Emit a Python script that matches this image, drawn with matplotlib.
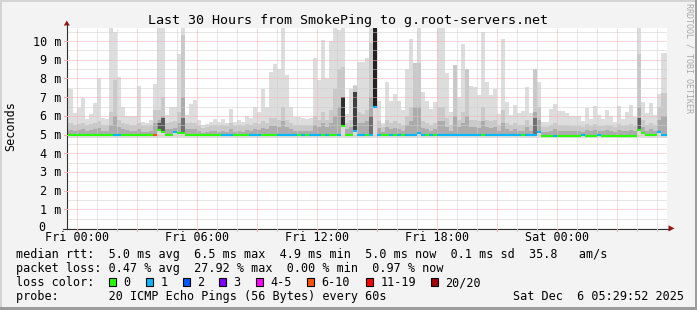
import numpy as np
import matplotlib
matplotlib.use("Agg")
import matplotlib.pyplot as plt
from matplotlib.lines import Line2D
from matplotlib.patches import Rectangle, Polygon

W, H = 697, 310
MONO = "DejaVu Sans Mono"

# ---------------- data (12-minute steps, hours since Thu 23:30) ----------------
step_hours = 0.2
max_ms = [7.5, 7.45, 6.15, 6.43, 6.95, 5.85, 6.1, 6.7, 8.0, 5.9,
          5.85, 10.7, 10.5, 8.07, 6.47, 6.0, 6.0, 6.0, 7.6, 5.67,
          5.6, 5.8, 7.7, 10.7, 10.7, 6.03, 6.5, 6.5, 9.3, 10.7,
          6.03, 6.65, 6.83, 5.76, 5.49, 5.58, 5.67, 5.85, 5.67, 5.81,
          5.63, 6.34, 5.67, 5.8, 5.67, 5.97, 5.88, 6.47, 6.2, 7.45,
          6.5, 8.35, 8.77, 8.5, 10.7, 8.2, 6.47, 5.93, 5.93, 5.88,
          5.85, 5.88, 9.1, 7.9, 10.05, 8.05, 10.0, 10.7, 10.6, 10.7,
          6.1, 7.45, 7.65, 8.9, 8.9, 9.1, 10.7, 10.7, 6.78, 5.6,
          7.8, 6.78, 7.18, 6.78, 6.29, 8.5, 10.1, 8.85, 10.7, 7.27,
          6.78, 6.34, 6.74, 10.7, 10.7, 8.31, 6.2, 8.7, 7.0, 9.85,
          8.5, 7.6, 7.55, 7.1, 10.5, 7.8, 7.13, 7.45, 6.12, 10.1,
          6.74, 6.06, 6.56, 6.17, 6.24, 7.55, 6.17, 8.5, 7.8, 5.67,
          5.67, 6.34, 6.65, 6.24, 6.24, 6.17, 5.97, 5.97, 5.97, 5.7,
          6.41, 5.85, 6.52, 6.03, 5.85, 6.29, 5.97, 5.67, 6.52, 5.85,
          6.2, 6.6, 5.93, 10.7, 6.74, 6.17, 6.7, 6.06, 7.18, 9.35,
          9.35]
hi_ms = [5.6, 5.6, 5.5, 5.55, 5.6, 5.5, 5.55, 5.6, 5.7, 5.5,
         5.5, 6.2, 7.9, 5.8, 5.6, 5.55, 5.5, 5.5, 5.6, 5.45,
         5.45, 5.5, 6.3, 6.3, 7.0, 5.6, 5.65, 5.7, 6.2, 10.3,
         5.6, 5.6, 5.6, 5.45, 5.35, 5.4, 5.45, 5.5, 5.45, 5.5,
         5.45, 5.6, 5.45, 5.5, 5.45, 5.55, 5.5, 5.6, 5.55, 5.7,
         5.6, 5.9, 5.9, 5.8, 6.5, 5.8, 5.6, 5.5, 5.5, 5.5,
         5.5, 5.5, 6.0, 5.8, 6.2, 5.8, 6.3, 7.45, 8.5, 8.6,
         5.6, 5.8, 7.6, 6.2, 6.1, 6.3, 9.9, 10.7, 5.7, 5.4,
         5.8, 5.6, 5.7, 5.6, 5.5, 6.0, 6.5, 8.85, 8.85, 5.7,
         5.6, 5.5, 5.6, 6.5, 6.5, 5.9, 5.5, 8.7, 5.8, 6.2,
         8.5, 5.8, 5.8, 5.7, 6.5, 5.8, 5.7, 5.8, 5.5, 6.3,
         5.6, 5.5, 5.6, 5.5, 5.5, 5.8, 5.5, 8.5, 6.5, 5.4,
         5.4, 5.5, 5.6, 5.5, 5.5, 5.5, 5.45, 5.45, 5.45, 5.4,
         5.55, 5.45, 5.55, 5.45, 5.45, 5.5, 5.45, 5.4, 5.55, 5.45,
         5.5, 5.55, 5.45, 9.3, 5.8, 5.5, 5.6, 5.5, 6.5, 7.2,
         7.2]
lo_ms = [5.25, 5.25, 5.2, 5.25, 5.3, 5.2, 5.25, 5.3, 5.35, 5.2,
         5.2, 5.5, 6.0, 5.4, 5.3, 5.25, 5.2, 5.2, 5.3, 5.15,
         5.15, 5.2, 5.6, 5.8, 6.0, 5.3, 5.3, 5.35, 5.6, 7.0,
         5.3, 5.3, 5.3, 5.2, 5.1, 5.15, 5.2, 5.2, 5.15, 5.2,
         5.15, 5.3, 5.15, 5.2, 5.15, 5.25, 5.2, 5.3, 5.25, 5.35,
         5.3, 5.45, 5.45, 5.4, 5.7, 5.4, 5.3, 5.2, 5.2, 5.2,
         5.2, 5.2, 5.5, 5.4, 5.6, 5.4, 5.6, 6.0, 6.5, 7.0,
         5.3, 5.4, 6.5, 5.6, 5.6, 5.7, 7.0, 10.0, 5.35, 5.15,
         5.4, 5.3, 5.35, 5.3, 5.2, 5.5, 5.7, 6.5, 6.5, 5.35,
         5.3, 5.2, 5.3, 5.7, 5.7, 5.4, 5.2, 6.0, 5.4, 5.6,
         6.0, 5.4, 5.4, 5.35, 5.7, 5.4, 5.35, 5.4, 5.2, 5.6,
         5.3, 5.2, 5.3, 5.2, 5.2, 5.4, 5.2, 6.2, 5.8, 5.15,
         5.15, 5.2, 5.3, 5.2, 5.2, 5.2, 5.2, 5.2, 5.2, 5.15,
         5.25, 5.2, 5.25, 5.2, 5.2, 5.25, 5.2, 5.15, 5.25, 5.2,
         5.2, 5.25, 5.2, 6.5, 5.4, 5.2, 5.3, 5.2, 5.8, 6.0,
         6.0]
# darker smoke cores of the few spiky intervals (bar index, top in ms, shade)
dark_idx = [23, 24, 29, 69, 72, 76, 77, 117, 143]
dark_top = [5.6, 5.9, 5.9, 7.0, 7.3, 6.0, 10.7, 5.9, 5.9]
dark_shade = ["#5a5a5a", "#5a5a5a", "#707070", "#303030", "#404040",
              "#707070", "#222222", "#707070", "#5a5a5a"]
median_ms = [4.97, 4.97, 4.97, 4.99, 4.99, 4.97, 4.97, 4.96, 4.97, 4.97,
             4.97, 4.99, 4.99, 4.99, 4.97, 4.97, 4.97, 4.96, 4.97, 4.95,
             4.95, 4.95, 4.95, 5.22, 5.13, 5.0, 5.0, 5.15, 5.08, 5.08,
             4.97, 4.97, 4.97, 4.96, 4.96, 4.96, 4.96, 4.96, 4.96, 4.95,
             4.95, 4.97, 4.96, 4.96, 4.96, 4.96, 4.95, 4.95, 4.96, 4.96,
             4.96, 4.96, 4.98, 4.96, 4.96, 4.96, 4.98, 4.96, 4.96, 4.98,
             4.96, 4.96, 4.96, 4.96, 4.98, 4.98, 4.98, 4.96, 4.96, 5.47,
             4.97, 4.97, 5.2, 4.97, 4.97, 4.98, 4.97, 6.47, 4.97, 4.97,
             4.96, 4.97, 4.95, 4.97, 4.97, 4.97, 4.97, 4.97, 5.1, 4.97,
             4.97, 4.97, 4.97, 4.97, 4.97, 4.97, 4.97, 4.97, 4.97, 4.97,
             4.97, 4.97, 4.97, 4.97, 4.97, 4.97, 4.97, 4.97, 4.97, 4.97,
             4.97, 4.97, 4.97, 4.97, 4.97, 4.97, 4.97, 4.97, 5.15, 4.92,
             4.92, 4.92, 4.93, 4.93, 4.92, 4.93, 4.93, 4.93, 4.93, 4.95,
             4.93, 4.93, 4.93, 4.95, 4.93, 4.93, 4.93, 4.92, 4.92, 4.93,
             4.93, 4.93, 4.92, 5.24, 5.1, 4.96, 4.96, 4.96, 5.15, 5.0,
             5.0]
min_ms = [4.82] * 151
loss = [0, 0, 0, 0, 0, 0, 0, 0, 0, 0,
        0, 0, 1, 1, 0, 0, 0, 0, 0, 0,
        0, 0, 7, 0, 0, 0, 0, 1, 0, 0,
        0, 0, 0, 0, 0, 0, 0, 0, 0, 1,
        1, 1, 0, 0, 0, 0, 1, 1, 1, 0,
        0, 0, 0, 1, 1, 1, 1, 1, 0, 1,
        0, 1, 1, 1, 0, 1, 0, 0, 1, 0,
        0, 0, 1, 1, 1, 0, 1, 1, 1, 0,
        0, 1, 0, 1, 0, 1, 1, 1, 1, 1,
        0, 1, 0, 1, 1, 1, 1, 1, 1, 1,
        1, 1, 1, 1, 0, 1, 1, 1, 1, 1,
        1, 1, 1, 1, 0, 1, 1, 1, 1, 0,
        0, 0, 1, 0, 0, 0, 0, 0, 0, 1,
        0, 0, 0, 1, 0, 0, 0, 0, 0, 0,
        0, 0, 0, 0, 0, 0, 0, 0, 1, 1,
        1]

x_labels = ["Fri 00:00", "Fri 06:00", "Fri 12:00", "Fri 18:00", "Sat 00:00"]
x_label_hours = [0.5, 6.5, 12.5, 18.5, 24.5]
y_ticks = [0, 1, 2, 3, 4, 5, 6, 7, 8, 9, 10]

loss_names = ["0", "1", "2", "3", "4-5", "6-10", "11-19", "20/20"]
loss_colors = ["#26ff00", "#00b8ff", "#0059ff", "#7e00ff", "#ff00ff",
               "#ff5500", "#ff0000", "#a10000"]

legend_lines = [
    "median rtt:  5.0 ms avg  6.5 ms max  4.9 ms min  5.0 ms now  0.1 ms sd  35.8   am/s",
    "packet loss: 0.47 % avg  27.92 % max  0.00 % min  0.97 % now",
]
probe_text = "probe:       20 ICMP Echo Pings (56 Bytes) every 60s"
date_text = "Sat Dec  6 05:29:52 2025"
title = "Last 30 Hours from SmokePing to g.root-servers.net"


def loss_color(n):
    if n == 0: return loss_colors[0]
    if n == 1: return loss_colors[1]
    if n == 2: return loss_colors[2]
    if n == 3: return loss_colors[3]
    if n <= 5: return loss_colors[4]
    if n <= 10: return loss_colors[5]
    if n <= 19: return loss_colors[6]
    return loss_colors[7]


# ---------------- figure ----------------
fig = plt.figure(figsize=(W / 100, H / 100), dpi=100)
fig.patch.set_facecolor("#f3f3f3")


def fx(x):
    return x / W


def fy(y):
    return 1 - y / H


X0, X1, Y0, Y1 = 67, 667, 28, 228
ax = fig.add_axes([fx(X0), fy(Y1), (X1 - X0) / W, (Y1 - Y0) / H])
ax.set_facecolor("white")
ax.set_xlim(0, 30)
ax.set_ylim(0, 10.7)
for s in ax.spines.values():
    s.set_visible(False)
ax.set_xticks([])
ax.set_yticks([])

n = len(max_ms)
t = np.arange(n) * step_hours
mx = np.array(max_ms)
hi = np.array(hi_ms)
lo = np.array(lo_ms)
md = np.array(median_ms)
mn = np.array(min_ms)

kw = dict(width=step_hours, align="center", linewidth=0, antialiased=False)
ax.bar(t, mx - mn, bottom=mn, color="#dddddd", zorder=1, **kw)
ax.bar(t, hi - md, bottom=md, color="#c9c9c9", zorder=1.1, **kw)
ax.bar(t, lo - md, bottom=md, color="#acacac", zorder=1.2, **kw)
di = np.array(dark_idx)
ax.bar(t[di], np.array(dark_top) - md[di], bottom=md[di], color=dark_shade, zorder=1.3, **kw)

# grid
dot = (0, (1, 1))
red = "#f6b0b0"
gray = "#cfcfcf"
for v in np.arange(0.5, 10.6, 1.0):
    ax.axhline(v, color=gray, lw=0.72, ls=dot, zorder=2)
for v in range(1, 11):
    ax.axhline(v, color=red, lw=0.72, ls=dot, zorder=2.1)
for hh in np.arange(0.5, 30, 1.0):
    if abs(((hh - 0.5) / 3) - round((hh - 0.5) / 3)) < 1e-6:
        ax.axvline(hh, color=red, lw=0.72, ls=dot, zorder=2.1)
    else:
        ax.axvline(hh, color=gray, lw=0.72, ls=dot, zorder=2)

# median line coloured by loss
for i in range(n):
    ax.hlines(md[i], t[i] - step_hours / 2, t[i] + step_hours / 2,
              colors=loss_color(loss[i]), lw=1.5, zorder=3)

# axes lines & arrows
fig.add_artist(Line2D([fx(66.5), fx(66.5)], [fy(228.5), fy(25)], color="#303030", lw=0.8))
fig.add_artist(Line2D([fx(63), fx(668)], [fy(228.5), fy(228.5)], color="#303030", lw=0.8))
fig.add_artist(Polygon([(fx(63.8), fy(25.5)), (fx(69.8), fy(25.5)), (fx(66.8), fy(20.5))],
                       closed=True, color="#9a1515", lw=0))
fig.add_artist(Polygon([(fx(668.5), fy(225.3)), (fx(668.5), fy(231.5)), (fx(674.5), fy(228.4))],
                       closed=True, color="#9a1515", lw=0))

# small ticks
for v in y_ticks[1:]:
    yy = Y1 - v * (Y1 - Y0) / 10.7
    fig.add_artist(Line2D([fx(64), fx(66.5)], [fy(yy), fy(yy)], color=red, lw=0.75))
for hh in np.arange(0.5, 30, 1.0):
    xx = X0 + hh * (X1 - X0) / 30
    c = red if abs(((hh - 0.5) / 3) - round((hh - 0.5) / 3)) < 1e-6 else gray
    fig.add_artist(Line2D([fx(xx), fx(xx)], [fy(229), fy(231)], color=c, lw=0.75))

# tick labels
for v in y_ticks:
    yy = Y1 - v * (Y1 - Y0) / 10.7
    if v == 0:
        fig.text(fx(42), fy(231), "0", ha="center", va="baseline",
                 family=MONO, fontsize=8.5)
    else:
        fig.text(fx(61), fy(yy + 4.5), f"{v} m", ha="right", va="baseline",
                 family=MONO, fontsize=8.5)
for lab, hh in zip(x_labels, x_label_hours):
    xx = X0 + hh * (X1 - X0) / 30
    fig.text(fx(xx), fy(241), lab, ha="center", va="baseline", family=MONO, fontsize=8.5)

# title and axis label
fig.text(fx(348.5), fy(24), title, ha="center", va="baseline", family=MONO, fontsize=9.6)
fig.text(fx(10.5), fy(126), "Seconds", rotation=90, ha="center", va="center",
         family=MONO, fontsize=8.5)
fig.text(fx(688.5), fy(58), "RRDTOOL / TOBI OETIKER", rotation=-90, ha="center",
         va="center", family=MONO, fontsize=6.0, color="#a8a8a8")

# legend
fig.text(fx(16), fy(258), legend_lines[0], ha="left", va="baseline", family=MONO, fontsize=8.5)
fig.text(fx(16), fy(272), legend_lines[1], ha="left", va="baseline", family=MONO, fontsize=8.5)
fig.text(fx(16), fy(286), "loss color:", ha="left", va="baseline", family=MONO, fontsize=8.5)
box_x = [109, 146, 182.5, 219, 256, 307, 366, 431]
for bx, name, col in zip(box_x, loss_names, loss_colors):
    fig.add_artist(Rectangle((fx(bx), fy(286)), 7 / W, 8 / H, facecolor=col,
                             edgecolor="black", lw=0.8))
    fig.text(fx(bx + 14.5), fy(286), name, ha="left", va="baseline", family=MONO, fontsize=8.5)
fig.text(fx(16), fy(300), probe_text, ha="left", va="baseline", family=MONO, fontsize=8.5)
fig.text(fx(513), fy(300), date_text, ha="left", va="baseline", family=MONO, fontsize=8.5)

# frame
fig.add_artist(Rectangle((0, fy(2.3)), 1, 2.3 / H, facecolor="#d4d4d4", lw=0))
fig.add_artist(Rectangle((0, 0), 2.3 / W, 1, facecolor="#d4d4d4", lw=0))
fig.add_artist(Rectangle((fx(694.5), 0), 2.5 / W, 1, facecolor="#9c9c9c", lw=0))
fig.add_artist(Rectangle((0, 0), 1, 3 / H, facecolor="#9c9c9c", lw=0))

fig.savefig("out.png", dpi=100, facecolor=fig.get_facecolor())
